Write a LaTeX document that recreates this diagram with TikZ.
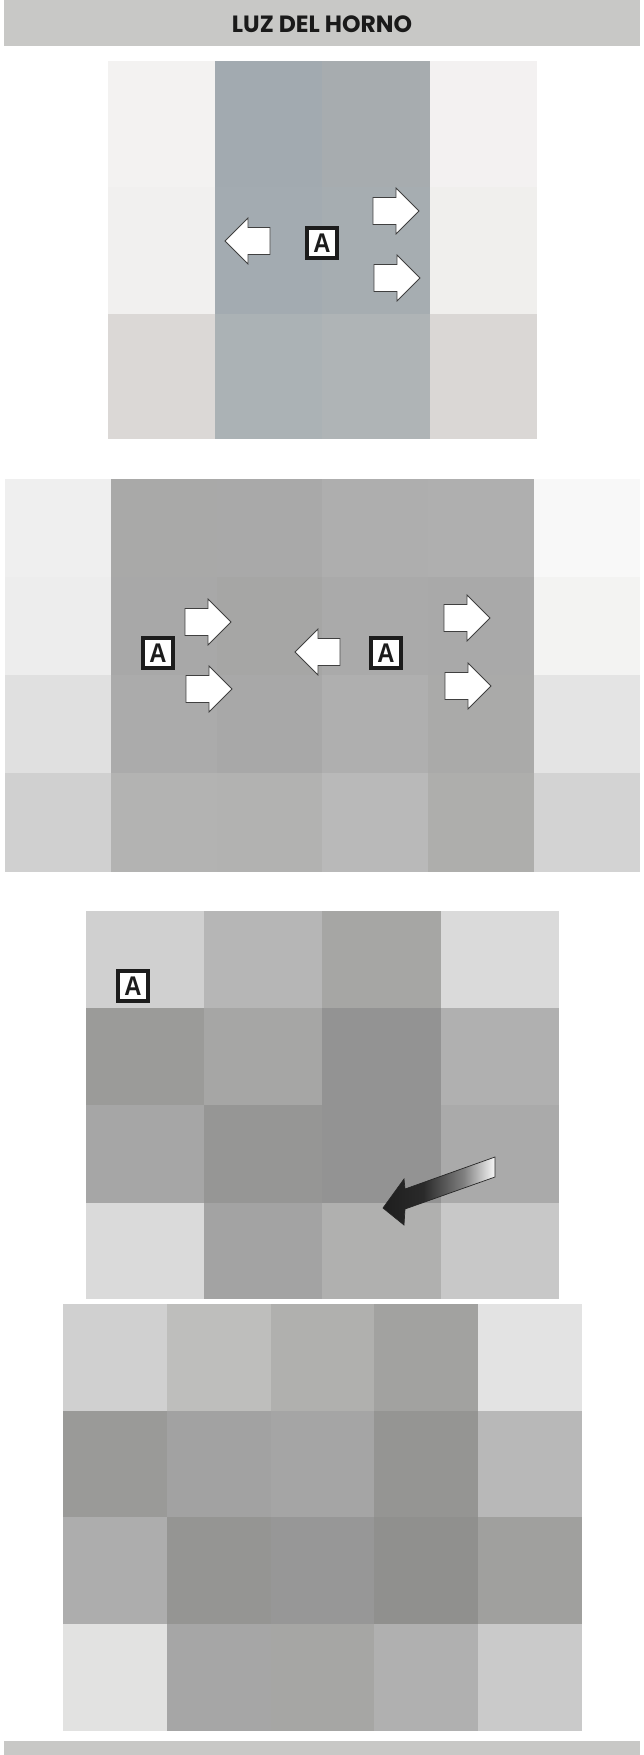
\documentclass[tikz,border=0pt]{standalone}
\usepackage{fontspec}
\newfontfamily\titlefont{Poppins}
\newfontfamily\boxfont{Liberation Sans}
\definecolor{headc}{HTML}{C8C8C6}
\definecolor{titlec}{HTML}{1A1A1A}
\definecolor{boxc}{HTML}{1C1C1C}
\definecolor{garrowA}{HTML}{1E1E1E}
\definecolor{garrowB}{HTML}{2A2A2A}
\definecolor{garrowC}{HTML}{808080}
\definecolor{garrowD}{HTML}{F8F8F8}
\pgfdeclarehorizontalshading{gradarrow}{100bp}{color(0bp)=(garrowA); color(25bp)=(garrowA); color(43bp)=(garrowB); color(61bp)=(garrowC); color(75bp)=(garrowD); color(100bp)=(garrowD)}
\newcommand\cellbox[5]{\definecolor{tmpc}{HTML}{#5}\fill[tmpc] (#1,#2) rectangle (#3,#4);}
\tikzset{
  arrowline/.style={draw=black!75, line width=0.8pt, fill=white, line join=miter},
  rarrow/.pic={\path[arrowline] (0,-13.5) -- (23,-13.5) -- (23,-23) -- (46,0) -- (23,23) -- (23,13.5) -- (0,13.5) -- cycle;},
  larrow/.pic={\path[arrowline] (0,0) -- (23,-23) -- (23,-13.5) -- (45,-13.5) -- (45,13.5) -- (23,13.5) -- (23,23) -- cycle;},
  abox/.style={draw=boxc, line width=4pt, fill=white, minimum width=30pt, minimum height=30pt, inner sep=0pt, text=boxc},
  bar/.style={fill=headc}
}
\newcommand\boxA{\scalebox{0.88}[1]{\boxfont\bfseries\fontsize{27}{27}\selectfont A}}
\begin{document}
\begin{tikzpicture}[x=1pt,y=-1pt]
\useasboundingbox (0,0) rectangle (643,1755);
\fill[white] (0,0) rectangle (643,1755);
% header and footer bars
\fill[bar] (4,0) rectangle (640,46);
\fill[bar] (4,1741) rectangle (640,1755);
\node[anchor=base, text=titlec, inner sep=0pt] (title) at (322,32.5)
  {\resizebox{180pt}{!}{\titlefont\bfseries LUZ DEL HORNO}};

% ---------- panel 1 ----------
\cellbox{108}{61}{215}{187}{F3F2F1}
\cellbox{215}{61}{322}{187}{A2AAB0}
\cellbox{322}{61}{430}{187}{A7ACAF}
\cellbox{430}{61}{537}{187}{F3F1F1}
\cellbox{108}{187}{215}{314}{F1F0EF}
\cellbox{215}{187}{322}{314}{A3ABB1}
\cellbox{322}{187}{430}{314}{A6ADB1}
\cellbox{430}{187}{537}{314}{F0EFED}
\cellbox{108}{314}{215}{439}{DBD8D6}
\cellbox{215}{314}{322}{439}{ABB2B5}
\cellbox{322}{314}{430}{439}{AFB4B6}
\cellbox{430}{314}{537}{439}{DAD7D5}
\pic at (225,241) {larrow};
\pic at (373,211) {rarrow};
\pic at (374,278) {rarrow};
\node[abox] (a1) at (322,243) {\boxA};

% ---------- panel 2 ----------
\cellbox{5}{479}{111}{577}{EFEFEF}
\cellbox{111}{479}{217}{577}{A9A9A8}
\cellbox{217}{479}{322}{577}{A9A9A9}
\cellbox{322}{479}{428}{577}{AEAEAE}
\cellbox{428}{479}{534}{577}{AFAFAF}
\cellbox{534}{479}{640}{577}{F8F8F8}
\cellbox{5}{577}{111}{675}{EDEDED}
\cellbox{111}{577}{217}{675}{A8A8A8}
\cellbox{217}{577}{322}{675}{A6A6A5}
\cellbox{322}{577}{428}{675}{AAAAAA}
\cellbox{428}{577}{534}{675}{A9A9A9}
\cellbox{534}{577}{640}{675}{F3F3F2}
\cellbox{5}{675}{111}{773}{E0E0E0}
\cellbox{111}{675}{217}{773}{ABABAB}
\cellbox{217}{675}{322}{773}{A8A8A8}
\cellbox{322}{675}{428}{773}{AFAFAF}
\cellbox{428}{675}{534}{773}{AAAAA9}
\cellbox{534}{675}{640}{773}{E4E4E4}
\cellbox{5}{773}{111}{872}{D0D0D0}
\cellbox{111}{773}{217}{872}{B3B3B2}
\cellbox{217}{773}{322}{872}{B2B2B1}
\cellbox{322}{773}{428}{872}{B9B9B9}
\cellbox{428}{773}{534}{872}{AEAEAC}
\cellbox{534}{773}{640}{872}{D3D3D3}
\pic at (185,622) {rarrow};
\pic at (186,689) {rarrow};
\pic at (295,652) {larrow};
\pic at (444,618) {rarrow};
\pic at (445,686) {rarrow};
\node[abox] (a2) at (158,653) {\boxA};
\node[abox] (a3) at (386,653) {\boxA};

% ---------- panel 3 ----------
\cellbox{86}{911}{204}{1008}{D0D0D0}
\cellbox{204}{911}{322}{1008}{B6B6B6}
\cellbox{322}{911}{441}{1008}{A6A6A4}
\cellbox{441}{911}{559}{1008}{DADADA}
\cellbox{86}{1008}{204}{1105}{9B9B99}
\cellbox{204}{1008}{322}{1105}{A6A6A5}
\cellbox{322}{1008}{441}{1105}{939393}
\cellbox{441}{1008}{559}{1105}{B0B0B0}
\cellbox{86}{1105}{204}{1203}{A6A6A6}
\cellbox{204}{1105}{322}{1203}{969695}
\cellbox{322}{1105}{441}{1203}{939393}
\cellbox{441}{1105}{559}{1203}{AAAAAA}
\cellbox{86}{1203}{204}{1299}{DADADA}
\cellbox{204}{1203}{322}{1299}{A3A3A3}
\cellbox{322}{1203}{441}{1299}{B0B0AF}
\cellbox{441}{1203}{559}{1299}{C8C8C8}
\node[abox] (a4) at (133,986) {\boxA};
\draw[line width=0.7pt, draw=black!85, shading=gradarrow]
  (383,1208) -- (404,1179) -- (405,1189) -- (495,1157) -- (495,1177)
  -- (405,1209) -- (404,1225) -- cycle;

% ---------- panel 4 ----------
\cellbox{63}{1304}{167}{1411}{D0D0D0}
\cellbox{167}{1304}{271}{1411}{BEBEBC}
\cellbox{271}{1304}{374}{1411}{B0B0AE}
\cellbox{374}{1304}{478}{1411}{A2A2A0}
\cellbox{478}{1304}{582}{1411}{E3E3E3}
\cellbox{63}{1411}{167}{1517}{9A9A98}
\cellbox{167}{1411}{271}{1517}{A2A2A2}
\cellbox{271}{1411}{374}{1517}{A5A5A5}
\cellbox{374}{1411}{478}{1517}{959593}
\cellbox{478}{1411}{582}{1517}{B8B8B8}
\cellbox{63}{1517}{167}{1624}{ADADAD}
\cellbox{167}{1517}{271}{1624}{959593}
\cellbox{271}{1517}{374}{1624}{979797}
\cellbox{374}{1517}{478}{1624}{90908E}
\cellbox{478}{1517}{582}{1624}{A0A09E}
\cellbox{63}{1624}{167}{1731}{E2E2E1}
\cellbox{167}{1624}{271}{1731}{A6A6A6}
\cellbox{271}{1624}{374}{1731}{A6A6A4}
\cellbox{374}{1624}{478}{1731}{B0B0B0}
\cellbox{478}{1624}{582}{1731}{CACACA}
\end{tikzpicture}
\end{document}
